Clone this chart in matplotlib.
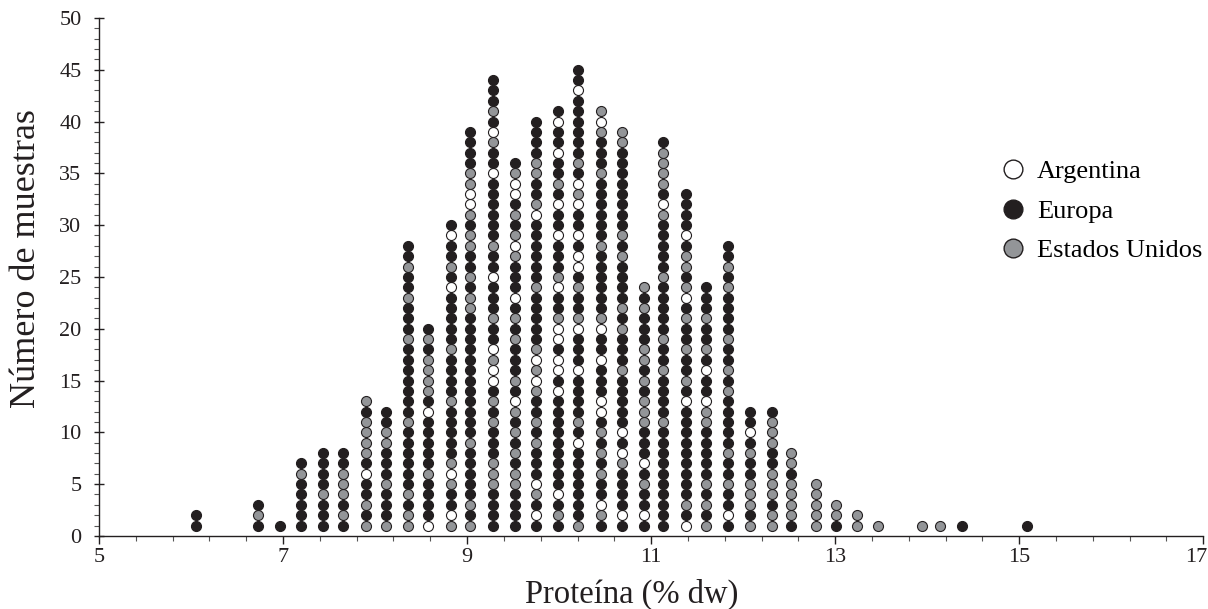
import numpy as np
import matplotlib.pyplot as plt
from matplotlib.lines import Line2D
from matplotlib.ticker import MultipleLocator, FixedLocator
from matplotlib.transforms import ScaledTranslation

# centro de cada clase de proteina (% dw)
proteina = [6.05, 6.73, 6.97, 7.19, 7.43, 7.65, 7.90, 8.12, 8.36, 8.58,
            8.82, 9.03, 9.28, 9.52, 9.75, 9.99, 10.21, 10.46, 10.68, 10.92,
            11.13, 11.38, 11.60, 11.84, 12.07, 12.31, 12.52, 12.79, 13.01, 13.24,
            13.47, 13.94, 14.14, 14.38, 15.08]

# origen de cada muestra, de abajo hacia arriba en cada columna
# A = Argentina, E = Europa, U = Estados Unidos
columnas = [
    "EE",
    "EUE",
    "E",
    "EEEEEUE",
    "EEEUEEEE",
    "EUEUUUEE",
    "UEUEEAEUUUUEU",
    "UEEEUEEEUUEE",
    "UUEUEEEEEEUEEEEEEEUEEEUEEUEE",
    "AEEEEUEEEEEAEUUUUEUE",
    "UAEEUAUEEEEEUEEEEUEEEEEAEUEEAE",
    "UEUEEEEEUEEEEEEEEEEEEUUEUEEUUEUAAUUEEEE",
    "EEEEUUUEEEUEUEAAUAEEUEEEAEEUEEEEEEAEEUAEUEEE",
    "EEEEUUEUEUEUAEUEEEUEUEAEEEUAUEUEAAUE",
    "EAEUAEEEUEUEEUAUAUEEEEEUEEEEEEAUEEUUEEEE",
    "EUEAEEEEEEEEEAEAAEAAUEEAUEEEAEEAEUEEAEEAE",
    "UEEEEEEEAEUEEEEAEEEAUEEUEAAEAEEAUAEUEEEEEEAEE",
    "EUAEEUEUEUEAAEEEAEEAUEEEEEEUEEEEEEUEEEUAU",
    "EAEEEEUAEAEEEEEUEEEUEUEEEEUEUEEEEEEEEUU",
    "EAEEUEAEEEUUUEUEUUEEEUEU",
    "EEEEEEEEEEUEEEEUEEUEEEEEUEEEEEUAEUUUUE",
    "AEUEEEEEEEEEAEUEEUEEUEAUEUUEAEEEE",
    "UEUEUEEEEEUUAEEAEUEEUEEE",
    "EAEEUEEUEEEEEUEUEEUEEEEUEUEE",
    "UEUUUEEUEAEE",
    "UUEUUUEEUUUE",
    "EUUUUEUU",
    "UUUUU",
    "EUU",
    "UU",
    "U",
    "U",
    "U",
    "E",
    "E",
]

origenes = ['A', 'E', 'U']
nombres = {'A': 'Argentina', 'E': 'Europa', 'U': 'Estados Unidos'}
colores = {'A': 'white', 'E': '#231f20', 'U': '#939598'}

plt.rcParams['font.family'] = ['Liberation Serif', 'DejaVu Serif']

fig = plt.figure(figsize=(12.08, 6.09), dpi=100)
ax = fig.add_axes([0.082, 0.12, 0.914, 0.8506])

for o in origenes:
    px, py = [], []
    for x, col in zip(proteina, columnas):
        for k, c in enumerate(col):
            if c == o:
                px.append(x)
                py.append(k + 1)
    ax.scatter(px, py, s=52, c=colores[o], edgecolors='#231f20',
               linewidths=0.8, zorder=3, clip_on=False)

ax.set_xlim(5, 17)
ax.set_ylim(0, 50)
ax.xaxis.set_major_locator(FixedLocator(np.arange(5, 17.1, 2)))
ax.xaxis.set_minor_locator(FixedLocator(np.arange(5, 17.01, 0.4)))
ax.yaxis.set_major_locator(MultipleLocator(5))
ax.yaxis.set_minor_locator(MultipleLocator(1))

for s in ['top', 'right']:
    ax.spines[s].set_visible(False)
for s in ['left', 'bottom']:
    ax.spines[s].set_linewidth(1.0)
    ax.spines[s].set_color('#231f20')

ax.tick_params(axis='y', which='major', direction='inout', length=7.2, width=1,
               labelsize=16, pad=9, colors='#231f20')
ax.tick_params(axis='y', which='minor', direction='out', length=3.6, width=0.8,
               colors='#555555')
ax.tick_params(axis='x', which='major', direction='out', length=5.8, width=1,
               labelsize=16, pad=3, colors='#231f20')
ax.tick_params(axis='x', which='minor', direction='out', length=3.4, width=0.8,
               colors='#555555')

# el "17" queda un poco a la izquierda para no salirse de la figura
fig.canvas.draw()
ult = ax.get_xticklabels()[-1]
ult.set_transform(ult.get_transform() + ScaledTranslation(-0.07, 0, fig.dpi_scale_trans))

ax.set_xlabel('Proteína (% dw)', fontsize=23.5, color='#231f20')
ax.set_ylabel('Número de muestras', fontsize=26, color='#231f20')
ax.xaxis.set_label_coords(0.482, -0.082)
ax.yaxis.set_label_coords(-0.051, 0.535)

handles = [Line2D([], [], ls='none', marker='o', markersize=13.5,
                  markerfacecolor=colores[o], markeredgecolor='#231f20',
                  markeredgewidth=1.0) for o in origenes]
ax.legend(handles, [nombres[o] for o in origenes], loc='upper left',
          bbox_to_anchor=(1000 / 1208, 1 - 160 / 609), bbox_transform=fig.transFigure,
          frameon=False, fontsize=19, handlelength=1.0, handletextpad=0.4,
          labelspacing=0.6, borderpad=0, borderaxespad=0)

fig.savefig('out.png', dpi=100)
